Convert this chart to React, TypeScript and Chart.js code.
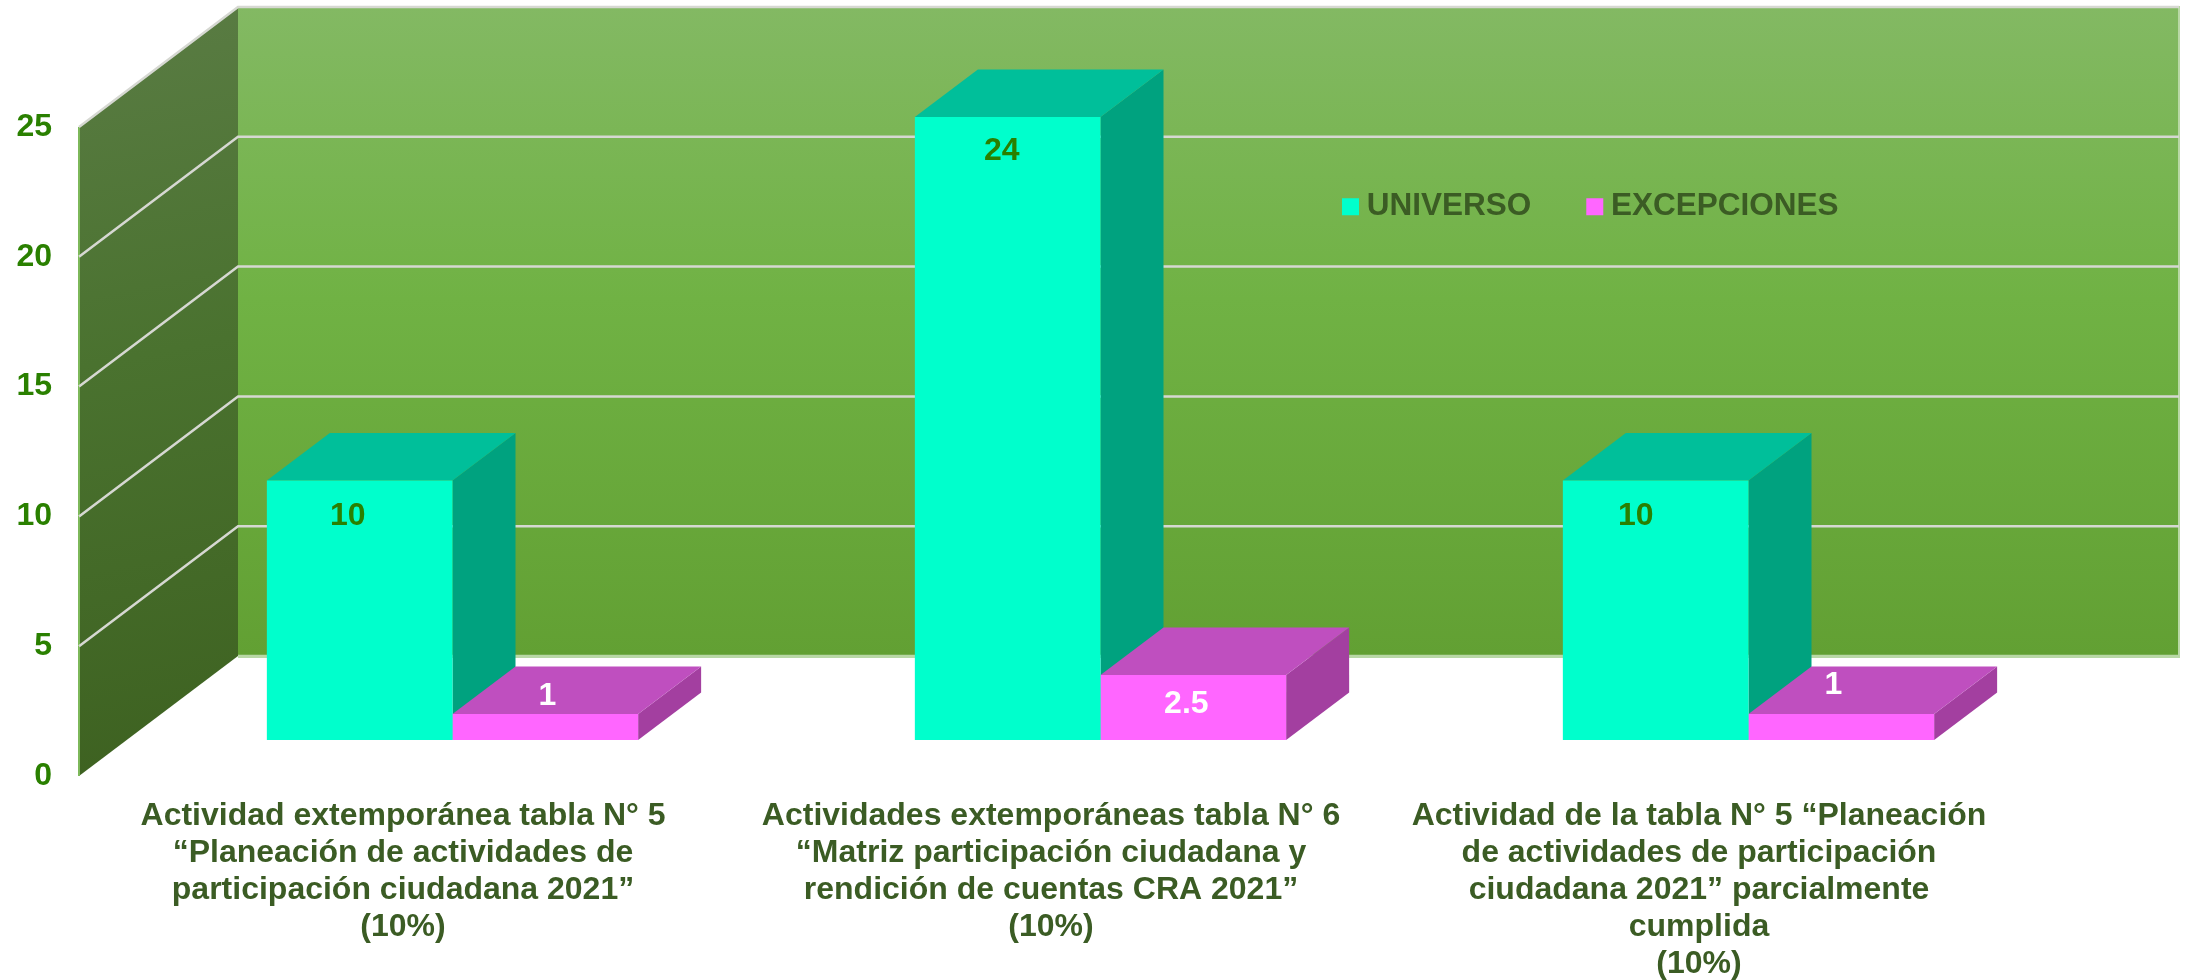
import React, { useEffect, useRef } from "react";
import { Chart, registerables } from "chart.js";

Chart.register(...registerables);

const categories: string[][] = [
  ["Actividad extemporánea tabla N° 5", "“Planeación de actividades de", "participación ciudadana 2021”", "(10%)"],
  ["Actividades extemporáneas tabla N° 6", "“Matriz participación ciudadana y", "rendición de cuentas CRA 2021”", "(10%)"],
  ["Actividad de la tabla N° 5 “Planeación", "de actividades de participación", "ciudadana 2021” parcialmente", "cumplida", "(10%)"],
];
const universo = [10, 24, 10];
const excepciones = [1, 2.5, 1];
const yTicks = [0, 5, 10, 15, 20, 25];

const FONT = "'Liberation Sans', Arial, sans-serif";
const FONT_SIZE = 32;
const TICK_GREEN = "#2A8000";
const TEXT_GREEN = "#3B5C24";
const GRID = "#D6D8D2";

// Offset of the back wall from the front plane of the chart area.
const WALL_DX = 159;
const WALL_DY = 120;
const WALL_RIGHT_TRIM = 3;
// Offset of the bars' front face from the front plane, and bar depth.
const BAR_DX = 49.5;
const BAR_DY = 36;
const DEPTH_X = 63;
const DEPTH_Y = 47.5;

const faceColors = [
  { top: "#00BF9A", side: "#00A27F" },
  { top: "#BF4FBF", side: "#A33FA0" },
];
const labelColors = [TICK_GREEN, "#FFFFFF"];
// Hand placement of each value label relative to its bar: [dx, dy from bar top].
const labelNudges = [
  [[-12, 36], [-6, 34], [-20, 36]],
  [[2, -18], [-7, 29], [-8, -29]],
];

const poly = (ctx: CanvasRenderingContext2D, pts: number[][], fill: string | CanvasGradient) => {
  ctx.beginPath();
  pts.forEach(([x, y], i) => (i ? ctx.lineTo(x, y) : ctx.moveTo(x, y)));
  ctx.closePath();
  ctx.fillStyle = fill;
  ctx.fill();
};

const walls3d = {
  id: "walls3d",
  beforeLayout(chart: any) {
    const l = chart.legend;
    if (l && !l.__flat) {
      const fit = l.fit.bind(l);
      l.fit = () => {
        fit();
        l.height = 0;
      };
      l.__flat = true;
    }
  },
  afterLayout(chart: any) {
    const l = chart.legend;
    if (!l) return;
    l.left = 1287;
    l.right = 2192;
    l.top = 128;
    l.bottom = 328;
  },
  beforeDraw(chart: any) {
    const { ctx, chartArea: a, scales } = chart;
    const backL = a.left + WALL_DX;
    const backR = a.right + WALL_DX - WALL_RIGHT_TRIM;
    const backT = a.top - WALL_DY;
    const backB = a.bottom - WALL_DY;
    ctx.save();
    const back = ctx.createLinearGradient(0, backT, 0, backB);
    back.addColorStop(0, "#83B963");
    back.addColorStop(0.45, "#70B244");
    back.addColorStop(1, "#62A033");
    ctx.fillStyle = "#B9D8A6";
    ctx.fillRect(backL, backT - 1, backR - backL + 1, backB - backT + 3);
    ctx.fillStyle = back;
    ctx.fillRect(backL, backT, backR - backL - 1, backB - backT);
    const side = ctx.createLinearGradient(a.left, backT, backL, a.bottom);
    side.addColorStop(0, "#5A7C44");
    side.addColorStop(0.45, "#4A722F");
    side.addColorStop(1, "#3D6120");
    poly(ctx, [[a.left, a.top], [backL, backT], [backL, backB], [a.left, a.bottom]], side);
    ctx.strokeStyle = "#7DB85A";
    ctx.lineWidth = 2;
    ctx.beginPath();
    ctx.moveTo(a.left, a.top);
    ctx.lineTo(a.left, a.bottom);
    ctx.stroke();
    yTicks.forEach((v) => {
      const y = scales.y.getPixelForValue(v);
      ctx.strokeStyle = v === 0 ? "#B9D8A6" : GRID;
      ctx.lineWidth = 2.5;
      ctx.beginPath();
      if (v !== 0) ctx.moveTo(a.left, y);
      else ctx.moveTo(backL, y - WALL_DY);
      ctx.lineTo(backL, y - WALL_DY);
      ctx.lineTo(backR, y - WALL_DY);
      ctx.stroke();
    });
    ctx.restore();
  },
  beforeDatasetsDraw(chart: any) {
    const { ctx } = chart;
    ctx.save();
    ctx.translate(BAR_DX, -BAR_DY);
    [0, 1].forEach((d) => {
      chart.getDatasetMeta(d).data.forEach((bar: any) => {
        const l = bar.x - bar.width / 2;
        const r = bar.x + bar.width / 2;
        const t = bar.y;
        const b = bar.base;
        poly(ctx, [[r, t], [r + DEPTH_X, t - DEPTH_Y], [r + DEPTH_X, b - DEPTH_Y], [r, b]], faceColors[d].side);
        poly(ctx, [[l, t], [l + DEPTH_X, t - DEPTH_Y], [r + DEPTH_X, t - DEPTH_Y], [r, t]], faceColors[d].top);
      });
    });
  },
  afterDatasetsDraw(chart: any) {
    const { ctx } = chart;
    ctx.font = `bold ${FONT_SIZE}px ${FONT}`;
    ctx.textAlign = "center";
    ctx.textBaseline = "middle";
    [0, 1].forEach((d) => {
      const values = chart.data.datasets[d].data;
      chart.getDatasetMeta(d).data.forEach((bar: any, i: number) => {
        const [nx, ny] = labelNudges[d][i];
        ctx.fillStyle = labelColors[d];
        ctx.fillText(String(values[i]), bar.x + nx, bar.y + ny);
      });
    });
    ctx.restore();
  },
};

export default function App() {
  const ref = useRef<HTMLCanvasElement>(null);
  useEffect(() => {
    document.body.style.margin = "0";
    document.body.style.background = "#fff";
    const chart = new Chart(ref.current!, {
      type: "bar",
      data: {
        labels: categories as any,
        datasets: [
          { label: "UNIVERSO", data: universo, backgroundColor: "#00FFCC" },
          { label: "EXCEPCIONES", data: excepciones, backgroundColor: "#FF66FF" },
        ],
      },
      plugins: [walls3d],
      options: {
        responsive: false,
        animation: false,
        layout: { padding: { left: 0, top: 127, right: 169, bottom: 0 } },
        datasets: { bar: { categoryPercentage: 0.573, barPercentage: 1 } },
        scales: {
          x: {
            grid: { display: false, drawTicks: false },
            border: { display: false },
            afterFit: (s: any) => { s.height = 204; },
            ticks: {
              autoSkip: false,
              maxRotation: 0,
              minRotation: 0,
              padding: 22,
              color: TEXT_GREEN,
              font: { family: FONT, size: FONT_SIZE, weight: "bold", lineHeight: 37 / FONT_SIZE },
            },
          },
          y: {
            min: 0,
            max: 25,
            grid: { display: false, drawTicks: false },
            border: { display: false },
            afterFit: (s: any) => { s.width = 79; },
            afterBuildTicks: (s: any) => { s.ticks = yTicks.map((value) => ({ value })); },
            ticks: {
              padding: 27,
              color: TICK_GREEN,
              font: { family: FONT, size: FONT_SIZE, weight: "bold" },
            },
          },
        },
        plugins: {
          tooltip: { enabled: false },
          legend: {
            position: "top",
            align: "start",
            labels: {
              boxWidth: 1,
              boxHeight: 1,
              padding: 63,
              color: TEXT_GREEN,
              font: { family: FONT, size: 31.5, weight: "bold" },
              generateLabels: (c: any) =>
                Chart.defaults.plugins.legend.labels.generateLabels(c).map((it: any) => ({
                  ...it,
                  strokeStyle: it.fillStyle,
                  lineWidth: 16,
                })),
            },
          },
        },
      } as any,
    });
    return () => chart.destroy();
  }, []);
  return (
    <div style={{ position: "fixed", left: 0, top: 0, width: 2192, height: 980 }}>
      <canvas ref={ref} width={2192} height={980} style={{ display: "block" }} />
    </div>
  );
}
